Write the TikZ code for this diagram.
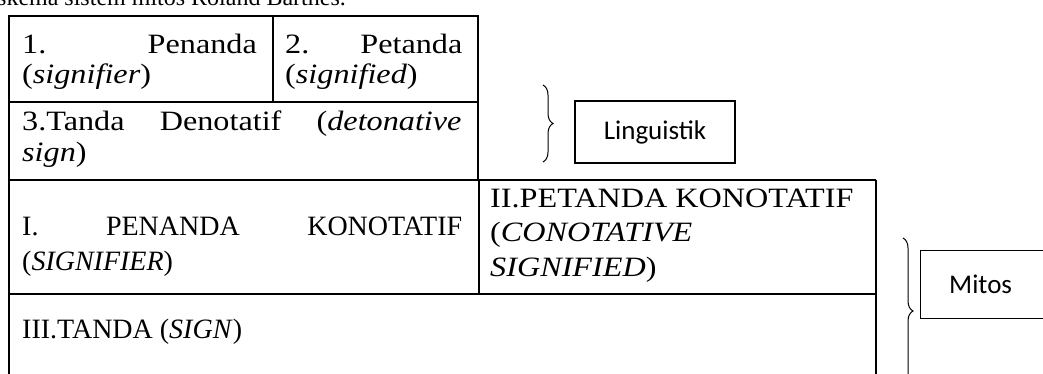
\documentclass[tikz,border=0pt]{standalone}
\usepackage{graphicx}
\usepackage{fontspec}
\setmainfont{Liberation Serif}
\newfontfamily\boxfont{Carlito}
\usetikzlibrary{decorations.pathreplacing}
\newcommand\wide[2][1.15]{\scalebox{#1}[1]{#2}}
\newcommand\widejust[3][1.15]{\scalebox{#1}[1]{\makebox[#2][s]{#3}}}
\tikzset{
  rule/.style={line width=1.8pt},
  thinrule/.style={line width=1.2pt},
  cell/.style={anchor=base west, inner sep=0pt, font=\fontsize{28}{30}\selectfont},
  captext/.style={anchor=base east, inner sep=0pt, font=\fontsize{24}{30}\selectfont},
  labelbox/.style={draw, line width=1.2pt, inner sep=0pt, font=\boxfont\fontsize{27}{30}\selectfont},
  bracket/.style={decorate, decoration={brace, amplitude=10pt}, line width=1.0pt},
}
\begin{document}
\begin{tikzpicture}[x=1pt,y=-1pt]
\useasboundingbox (0,0) rectangle (1043,374);
\clip (0,0) rectangle (1043,374);
% clipped caption line at the very top
\node[captext] (cap) at (346,6) {an skema sistem mitos Roland Barthes.};
% top table
\draw[rule] (9,16) rectangle (478,180);
\draw[rule] (9,102) -- (478,102);
\draw[rule] (273,16) -- (273,102);
% bottom table
\draw[rule] (9,180) -- (876,180);
\draw[rule] (9,180) -- (9,380);
\draw[rule] (876,180) -- (876,380);
\draw[thinrule] (9,294) -- (876,294);
\draw[thinrule] (479,180) -- (479,294);
% texts top
\node[cell] (c1a) at (22,54) {\widejust{204pt}{1. Penanda}};
\node[cell] (c1b) at (22,84) {\wide{(\textit{signifier})}};
\node[cell] (c2a) at (285,54) {\widejust{154pt}{2. Petanda}};
\node[cell] (c2b) at (285,84) {\wide{(\textit{signified})}};
\node[cell] (c3a) at (22,131) {\widejust{382pt}{3.Tanda Denotatif (\textit{detonative}}};
\node[cell] (c3b) at (22,161) {\wide{\textit{sign})}};
% texts bottom
\node[cell] (d1a) at (22,235) {\makebox[440pt][s]{I. PENANDA KONOTATIF}};
\node[cell] (d1b) at (22,270) {(\textit{SIGNIFIER})};
\node[cell] (d2a) at (490,207) {\wide{II.PETANDA KONOTATIF}};
\node[cell] (d2b) at (490,241) {\wide{(\textit{CONOTATIVE}}};
\node[cell] (d2c) at (490,276) {\wide{\textit{SIGNIFIED})}};
\node[cell] (d3) at (22,338) {III.TANDA (\textit{SIGN})};
% labels and braces
\node[labelbox, minimum width=160pt, minimum height=62pt] (ling) at (655,132) {Linguistik};
\coordinate (b1t) at (543,85);
\coordinate (b1b) at (543,162);
\draw[bracket] (b1t) -- (b1b);
\node[labelbox, minimum width=160pt, minimum height=68pt, anchor=north west] (mitos) at (920,250) {\hspace*{-40pt}Mitos};
\coordinate (b2t) at (903,238);
\coordinate (b2b) at (903,384);
\draw[bracket] (b2t) -- (b2b);
\end{tikzpicture}
\end{document}
